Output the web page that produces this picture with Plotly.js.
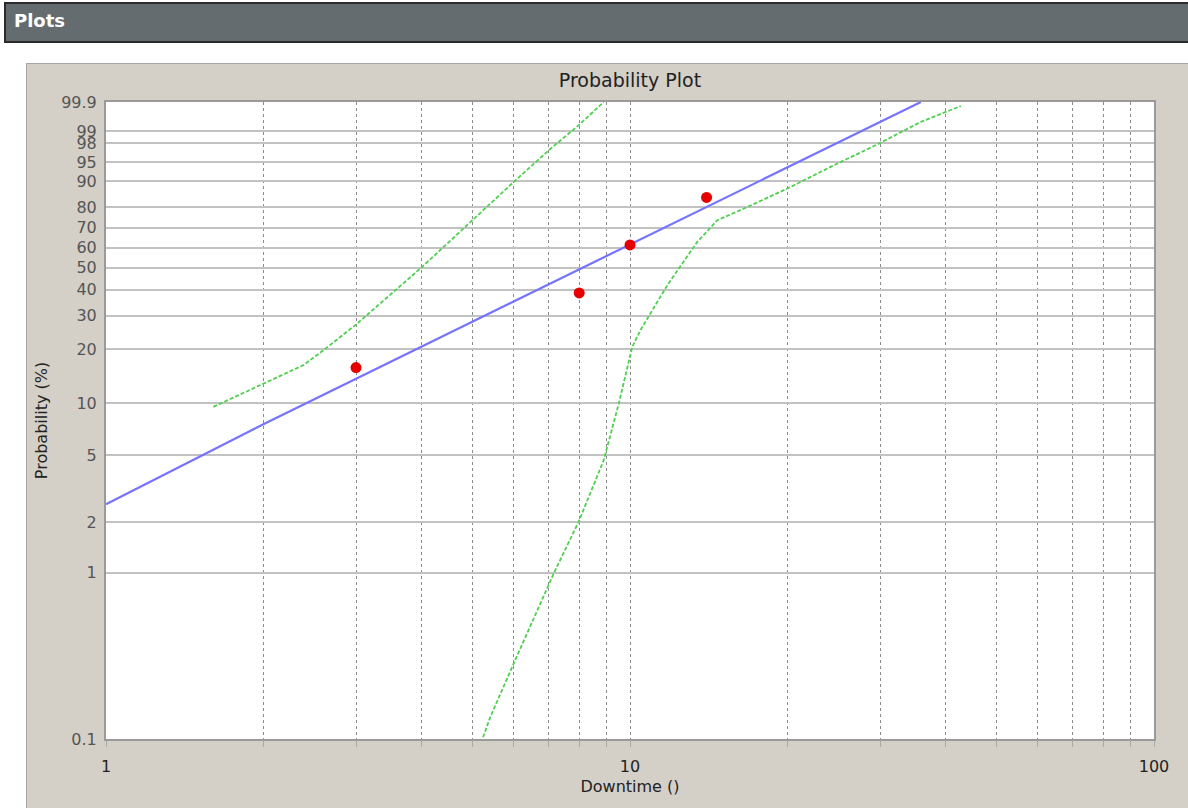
<!DOCTYPE html>
<html><head><meta charset="utf-8">
<script src="https://cdn.plot.ly/plotly-3.0.1.min.js"></script>
<style>
body{margin:0;background:#fff;width:1188px;height:808px;overflow:hidden;position:relative;font-family:"DejaVu Sans",sans-serif}
#hdr{position:absolute;left:4px;top:2px;width:1190px;height:37px;background:#656c6f;border:2px solid #2b2b2b;}
#hdr span{position:absolute;left:8px;top:6px;color:#fff;font-weight:bold;font-size:18px;}
#panel{position:absolute;left:26px;top:63px;width:1170px;height:760px;background:#d4d0c8;border:1px solid #a6a6a6;}
#chart{position:absolute;left:0;top:0;width:1188px;height:808px;}
</style></head><body>
<div id="hdr"><span>Plots</span></div>
<div id="panel"></div>
<div id="chart"></div>
<script>
// Observed failures (downtime) and median-rank probabilities (%)
const obsTime = [3, 8, 10, 14];
const obsProb = [15.91, 38.64, 61.36, 84.09];
// Fitted Weibull line
const fitTime = [1, 2.01, 5.0, 9.59, 29.9, 35.9];
const fitProb = [2.57, 7.67, 27.9, 59.2, 99.47, 99.9];
// Upper confidence bound (left green curve)
const upperTime = [1.603, 2.381, 2.601, 2.99, 3.98, 5.0, 6.0, 7.0, 7.98, 8.91];
const upperProb = [9.56, 16.41, 19.80, 26.80, 49.60, 73.79, 89.75, 97.09, 99.33, 99.9];
// Lower confidence bound (right green curve)
const lowerTime = [5.243, 5.414, 6.0, 7.152, 7.98, 8.91, 9.52, 10.1, 10.47, 11.78, 13.44, 14.68, 16.5, 19.97, 24.51, 29.88, 35.88, 42.8];
const lowerProb = [0.1024, 0.136, 0.2854, 0.991, 2.02, 4.68, 10.0, 20.63, 25.26, 41.93, 62.88, 73.79, 79.3, 87.49, 94.34, 97.94, 99.47, 99.855];
// Axis ticks
const probTicks = [0.1, 1, 2, 5, 10, 20, 30, 40, 50, 60, 70, 80, 90, 95, 98, 99, 99.9];
const probLabels = ["0.1", "1", "2", "5", "10", "20", "30", "40", "50", "60", "70", "80", "90", "95", "98", "99", "99.9"];
const timeTicks = [1, 2, 3, 4, 5, 6, 7, 8, 9, 10, 20, 30, 40, 50, 60, 70, 80, 90, 100];
const timeLabels = ["1", "", "", "", "", "", "", "", "", "10", "", "", "", "", "", "", "", "", "100"];

// Weibull probability scale
function weib(p) { return Math.log(-Math.log(1 - p / 100)); }

const traces = [
  {x: upperTime, y: upperProb.map(weib), mode: 'lines', line: {color: '#4fd04f', width: 1.8, dash: '4px,2px'}},
  {x: lowerTime, y: lowerProb.map(weib), mode: 'lines', line: {color: '#4fd04f', width: 1.8, dash: '4px,2px'}},
  {x: fitTime, y: fitProb.map(weib), mode: 'lines', line: {color: '#7474ff', width: 2.2}},
  {x: obsTime, y: obsProb.map(weib), mode: 'markers', marker: {color: '#e60000', size: 11}}
];

const layout = {
  width: 1188, height: 808,
  margin: {l: 106, r: 34, t: 102, b: 69},
  paper_bgcolor: 'rgba(0,0,0,0)',
  plot_bgcolor: '#ffffff',
  showlegend: false,
  hovermode: false,
  font: {family: '"DejaVu Sans", sans-serif', size: 16, color: '#333'},
  title: {text: 'Probability Plot', font: {size: 19, color: '#222'}, x: 0.5, xref: 'paper', y: 1 - 80 / 808, yref: 'container', yanchor: 'middle'},
  xaxis: {
    type: 'log', range: [0, 2],
    tickmode: 'array', tickvals: timeTicks, ticktext: timeLabels,
    showgrid: true, gridcolor: '#8c8c8c', griddash: 'dot', gridwidth: 1,
    ticks: 'outside', ticklen: 6, tickcolor: '#aaa', tickwidth: 1,
    showline: true, linecolor: '#9a9a9a', linewidth: 2, mirror: true,
    zeroline: false,
    tickfont: {size: 16, color: '#222'},
    ticklabelstandoff: 6,
    title: {text: 'Downtime ()', font: {size: 16, color: '#222'}, standoff: 6}
  },
  yaxis: {
    range: [weib(0.1), weib(99.9)],
    tickmode: 'array', tickvals: probTicks.map(weib), ticktext: probLabels,
    showgrid: true, gridcolor: '#c2c2c2', gridwidth: 2,
    ticks: '',
    showline: true, linecolor: '#9a9a9a', linewidth: 2, mirror: true,
    zeroline: false,
    tickfont: {size: 16, color: '#555'},
    ticklabelstandoff: 4,
    title: {text: 'Probability (%)', font: {size: 16, color: '#222'}, standoff: 10}
  }
};

Plotly.newPlot('chart', traces, layout, {staticPlot: true, displayModeBar: false});
</script>
</body></html>
